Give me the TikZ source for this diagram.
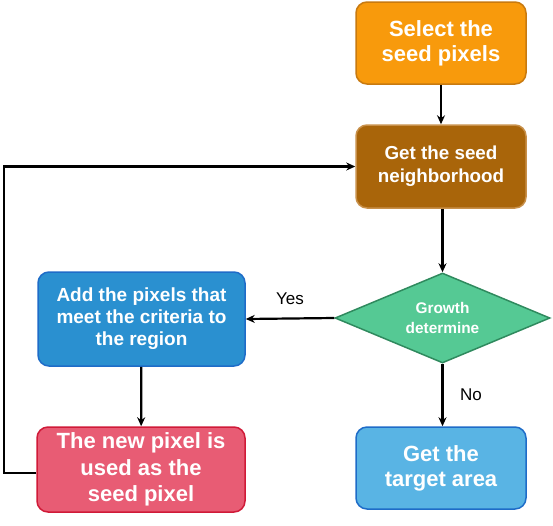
\documentclass[tikz,border=0pt]{standalone}
\usepackage{fontspec}
\setmainfont{Liberation Sans}
\usetikzlibrary{shapes.geometric,arrows.meta}
\definecolor{orangeF}{HTML}{F89A0C}
\definecolor{orangeD}{HTML}{C87A10}
\definecolor{brownF}{HTML}{A9650A}
\definecolor{brownD}{HTML}{C8904A}
\definecolor{greenF}{HTML}{55C994}
\definecolor{greenD}{HTML}{2F8A5E}
\definecolor{blueF}{HTML}{2A90D0}
\definecolor{blueD}{HTML}{1E6CC8}
\definecolor{lblueF}{HTML}{59B4E4}
\definecolor{redF}{HTML}{E85C74}
\definecolor{redD}{HTML}{D01A38}
\tikzset{
  box/.style={rounded corners=11pt, line width=1.5pt, text=white, font=\bfseries, align=center, inner sep=0pt},
  conn/.style={line width=2.2pt, -{Stealth[length=9pt,width=8pt]}},
  lbl/.style={font=\fontsize{17}{20}\selectfont, text=black}
}
\begin{document}
\begin{tikzpicture}[x=1pt,y=-1pt]
\useasboundingbox (0,0) rectangle (553,525);
\node[box, fill=orangeF, draw=orangeD, minimum width=170pt, minimum height=82pt, font=\bfseries\fontsize{22}{25}\selectfont] (sel) at (441,43) {Select the\\seed pixels};
\node[box, fill=brownF, draw=brownD, minimum width=170pt, minimum height=83pt, font=\bfseries\fontsize{18.8}{23}\selectfont] (nb) at (441,166.5) {Get the seed\\neighborhood};
\node[diamond, draw=greenD, fill=greenF, line width=1.5pt, minimum width=215pt, minimum height=90pt, aspect=2.39, inner sep=0pt, text=white, font=\bfseries\fontsize{15.4}{20}\selectfont, align=center] (gd) at (442.5,318) {Growth\\determine};
\node[box, fill=blueF, draw=blueD, minimum width=207pt, minimum height=94pt, font=\bfseries\fontsize{19}{22}\selectfont] (add) at (141.5,319) {Add the pixels that\\meet the criteria to\\the region};
\node[box, fill=redF, draw=redD, minimum width=208pt, minimum height=85pt, font=\bfseries\fontsize{22}{26.5}\selectfont] (np) at (141,469.5) {The new pixel is\\used as the\\seed pixel};
\node[box, fill=lblueF, draw=blueD, minimum width=170pt, minimum height=82pt, font=\bfseries\fontsize{22}{25}\selectfont] (tg) at (441,468) {Get the\\target area};
\coordinate (c1) at (4,473);
\coordinate (c2) at (4,166.5);
\draw[conn] (sel) -- (nb);
\draw[conn] (nb.south -| gd.north) -- (gd.north);
\draw[conn] (gd.west) -- (add.east);
\draw[conn] (gd.south) -- (gd.south |- tg.north);
\draw[conn] (add) -- (np);
\draw[conn] (np.west |- c1) -- (c1) -- (c2) -- (nb.west);
\node[lbl] (yes) at (290,299) {Yes};
\node[lbl] (no) at (471,395) {No};
\end{tikzpicture}
\end{document}
